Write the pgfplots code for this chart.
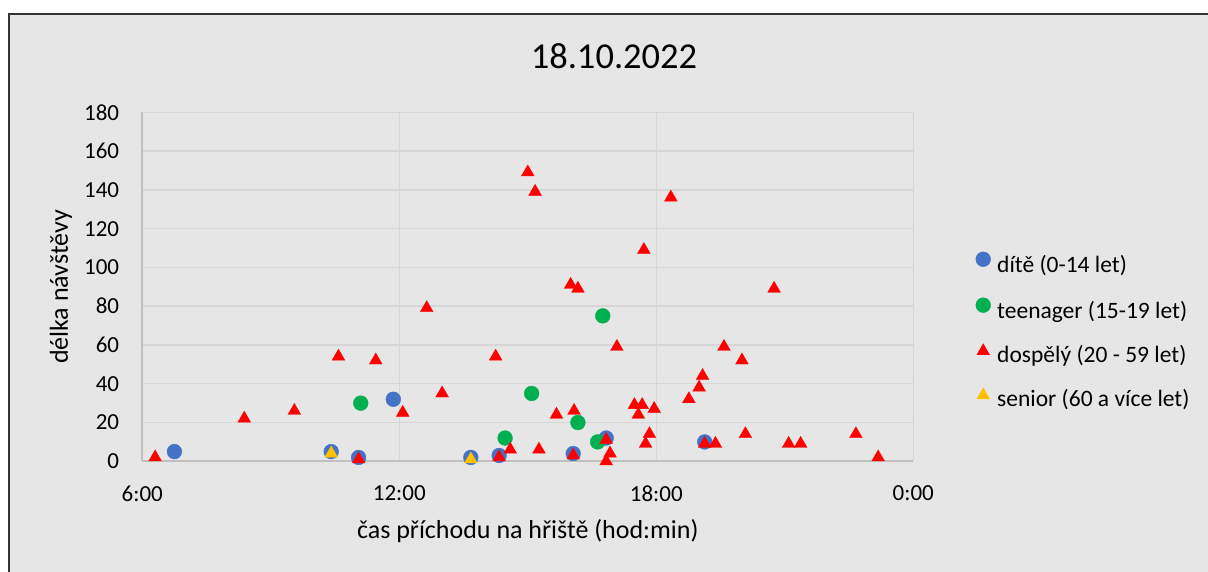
\documentclass[border=0pt]{standalone}
\usepackage{fontspec}
\setmainfont{Carlito}
\usepackage{pgfplots}
\pgfplotsset{compat=1.18}
\definecolor{bgc}{RGB}{230,230,230}
\definecolor{gridc}{RGB}{214,214,214}
\definecolor{axc}{RGB}{191,191,191}
\definecolor{cblue}{RGB}{68,114,196}
\definecolor{cgreen}{RGB}{0,176,80}
\definecolor{cred}{RGB}{255,0,0}
\definecolor{cyel}{RGB}{255,192,0}
\begin{document}
\begin{tikzpicture}
\path[use as bounding box] (0pt,0pt) rectangle (1208pt,571pt);
\fill[white] (0pt,0pt) rectangle (1208pt,571pt);
\filldraw[fill=bgc, draw=black!80, line width=2pt] (9pt,-10pt) rectangle (1230pt,557pt);
\begin{axis}[
  at={(142.3pt,109.7pt)}, anchor=south west,
  scale only axis, width=771pt, height=349pt,
  xmin=6, xmax=24, ymin=0, ymax=180,
  xtick={6,12,18,24}, xticklabels={6:00,12:00,18:00,0:00},
  ytick={0,20,...,180},
  major tick length=0pt,
  /pgf/number format/assume math mode=true,
  tick label style={font=\fontsize{23}{27}\selectfont, inner sep=0pt},
  xticklabel style={anchor=north, yshift=-24pt},
  yticklabel style={anchor=east, xshift=-23pt},
  grid=major,
  major grid style={draw=gridc, line width=1.5pt},
  axis x line*=bottom, axis y line*=left,
  axis line style={draw=axc, line width=1.8pt, -},
  clip=false,
  title={18.10.2022},
  title style={font=\fontsize{36.5}{40}\selectfont, at={(axis description cs:0.6118,1.107)}, anchor=base, inner sep=0pt},
  xlabel={čas příchodu na hřiště (hod:min)},
  xlabel style={font=\fontsize{26}{30}\selectfont, at={(axis description cs:0.5,-0.2200)}, anchor=base, inner sep=0pt},
  ylabel={délka návštěvy},
  ylabel style={font=\fontsize{26}{30}\selectfont, at={(axis description cs:-0.0964,0.5)}, anchor=base, inner sep=0pt, rotate=0},
  legend cell align=left,
  legend image code/.code={\path[draw=none,fill=none] (-7.5pt,0pt) -- (14pt,0pt); \draw[#1] plot coordinates {(0pt,7.5pt)};},
  legend style={draw=none, fill=none, inner sep=0pt, at={(1.0807,0.3716)}, anchor=west,
    font=\fontsize{23.5}{27}\selectfont, row sep=20.5pt,
    nodes={inner sep=0pt, text height=16pt, text depth=5pt}},
]
\addplot[only marks, mark=*, mark size=7.4pt, mark options={draw=cblue, fill=cblue, line width=0.4pt}] coordinates {
(6.75,5) (10.41,5) (11.05,2) (11.86,32) (13.67,2) (14.33,3) (16.06,4) (16.83,12) (19.13,10)
};
\addlegendentry{dítě (0-14 let)}
\addplot[only marks, mark=*, mark size=7.4pt, mark options={draw=cgreen, fill=cgreen, line width=0.4pt}] coordinates {
(11.10,30) (14.47,12) (15.09,35) (16.17,20) (16.63,10) (16.75,75)
};
\addlegendentry{teenager (15-19 let)}
\addplot[only marks, mark=triangle*, mark size=7.4pt, mark options={draw=cred, fill=cred, line width=0.3pt, yshift=-1.8pt}] coordinates {
(6.30,3) (8.38,23) (9.55,27) (10.58,55) (11.45,53) (11.05,2) (12.08,26) (12.64,80)
(13.00,36) (14.25,55) (14.33,3) (14.59,7) (15.00,150) (15.17,140) (15.26,7) (15.67,25)
(16.00,92) (16.08,27) (16.17,90) (16.06,4) (16.83,12) (16.92,5) (16.83,1) (17.08,60)
(17.49,30) (17.58,25) (17.67,30) (17.71,110) (17.75,10) (17.84,15) (17.95,28) (18.34,137)
(18.76,33) (19.00,39) (19.08,45) (19.13,10) (19.38,10) (19.58,60) (20.00,53) (20.08,15)
(20.75,90) (21.09,10) (21.37,10) (22.66,15) (23.18,3)
};
\addlegendentry{dospělý (20 - 59 let)}
\addplot[only marks, mark=triangle*, mark size=7.4pt, mark options={draw=cyel, fill=cyel, line width=0.3pt, yshift=-1.8pt}] coordinates {
(10.41,5) (13.67,2)
};
\addlegendentry{senior (60 a více let)}
\end{axis}
\end{tikzpicture}
\end{document}
